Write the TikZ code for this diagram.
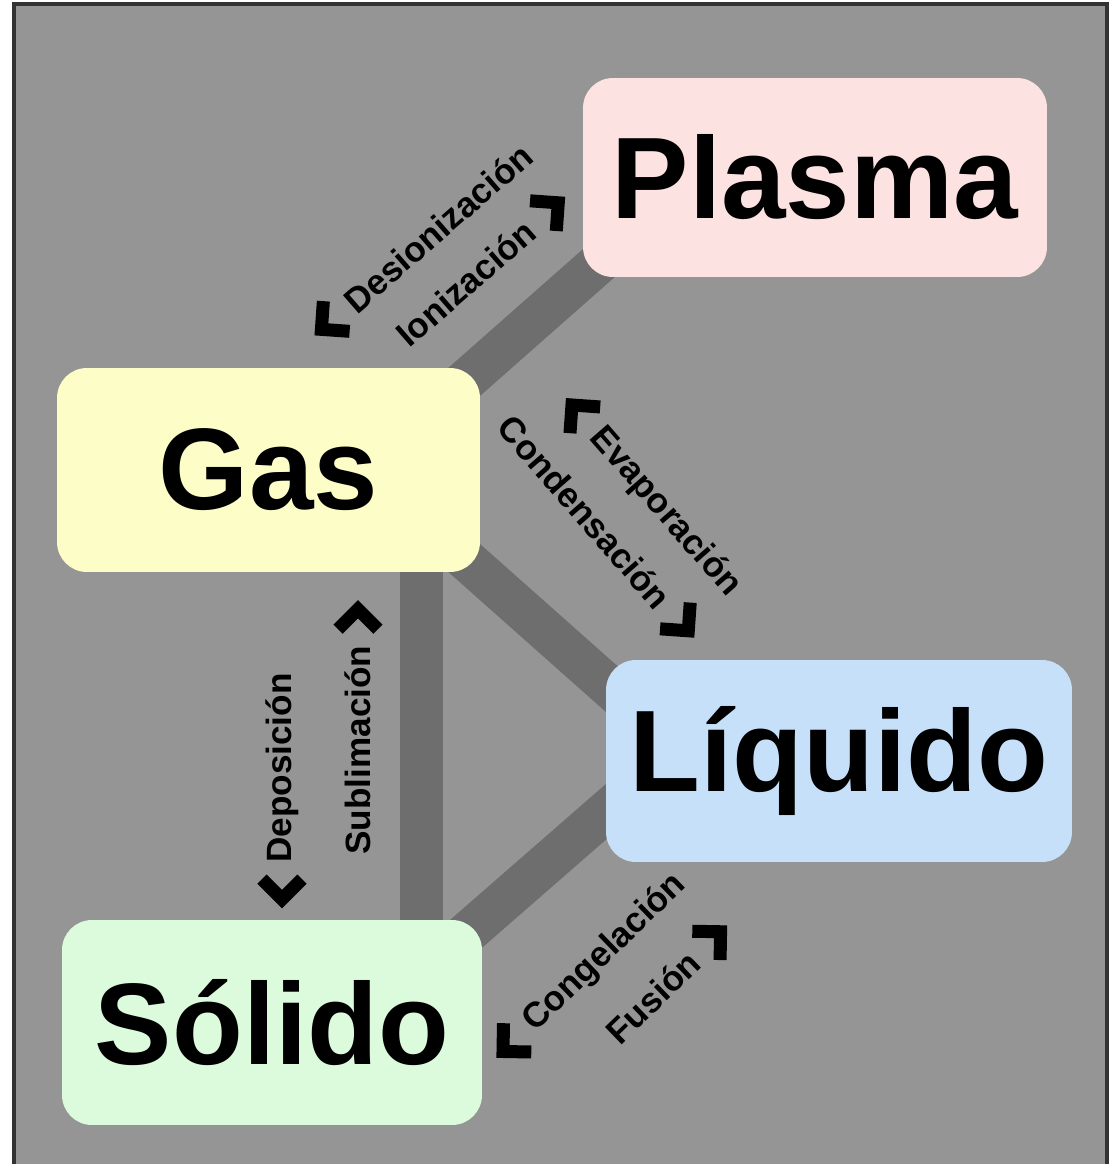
\documentclass[tikz,border=0pt]{standalone}
\usepackage{fontspec}
\setmainfont{Liberation Sans}
\usetikzlibrary{calc,backgrounds}
\definecolor{bggray}{HTML}{959595}
\definecolor{bandgray}{HTML}{6E6E6E}
\definecolor{plasmapink}{HTML}{FDE2E2}
\definecolor{gasyellow}{HTML}{FDFDC8}
\definecolor{liqblue}{HTML}{C6E0FA}
\definecolor{solgreen}{HTML}{DCFADC}
\tikzset{
  chevbk/.pic={\draw[line width=0.26cm, line join=miter] (20,20) -- (0,0) -- (20,-20);},
  chevfw/.pic={\draw[line width=0.26cm, line join=miter] (-20,20) -- (0,0) -- (-20,-20);}
}

\begin{document}
\begin{tikzpicture}[x=0.02cm,y=-0.02cm]
        \tikzstyle{every node}=[inner sep=2pt]
        \tikzstyle{state}=[rounded corners=17pt, font=\fontsize{66}{66}\selectfont\bfseries]
        \tikzstyle{change}=[font=\fontsize{20}{20}\selectfont\bfseries]
        \tikzstyle{band}=[draw=bandgray, line width=0.84cm, shorten <=-0.5cm, shorten >=-0.5cm]
        \useasboundingbox (0,0) rectangle (1109,1164);
        % states
        \node[state, fill=plasmapink, minimum width=9.28cm, minimum height=3.98cm] (plasma) at (815,177.5) {Plasma};
        \node[state, fill=gasyellow, minimum width=8.46cm, minimum height=4.08cm] (gas) at (268.5,470) {Gas};
        \node[state, fill=liqblue, minimum width=9.32cm, minimum height=4.04cm] (liquido) at (839,761) {Líquido};
        \node[state, fill=solgreen, minimum width=8.4cm, minimum height=4.1cm] (solido) at (272,1022.5) {Sólido};
        % changes of state
        \node[change, rotate=41] (desion) at (438,228) {Desionización};
        \node[change, rotate=41] (ioniz) at (466,283) {Ionización};
        \node[change, rotate=-49] (evap) at (665,512) {Evaporación};
        \node[change, rotate=-49] (conden) at (585,512) {Condensación};
        \node[change, rotate=90] (depos) at (282,768) {Deposición};
        \node[change, rotate=90] (sublim) at (358,750) {Sublimación};
        \node[change, rotate=44] (congel) at (605,953) {Congelación};
        \node[change, rotate=44] (fusion) at (653,997) {Fusión};
        \foreach \n/\a in {desion/41, evap/-49, depos/90, congel/44}
          \pic[rotate=\a] at ($(\n.west)!-0.65cm!(\n.east)$) {chevbk};
        \foreach \n/\a in {ioniz/41, conden/-49, sublim/90, fusion/44}
          \pic[rotate=\a] at ($(\n.east)!-0.65cm!(\n.west)$) {chevfw};
        \begin{scope}[on background layer]
          \fill[bggray, draw=black!80, line width=2pt] (14,4) rectangle (1107,1180);
          \draw[band] (gas.north east) -- (plasma.south west);
          \draw[band] (gas.south east) -- ([shift={(0,24)}]liquido.north west);
          \draw[band] (solido.north east) -- ([shift={(0,51)}]liquido.west);
          \draw[band, line width=0.86cm] ([shift={(-59,0)}]gas.south east) -- ([shift={(-61,0)}]solido.north east);
        \end{scope}
    \end{tikzpicture}
\end{document}
